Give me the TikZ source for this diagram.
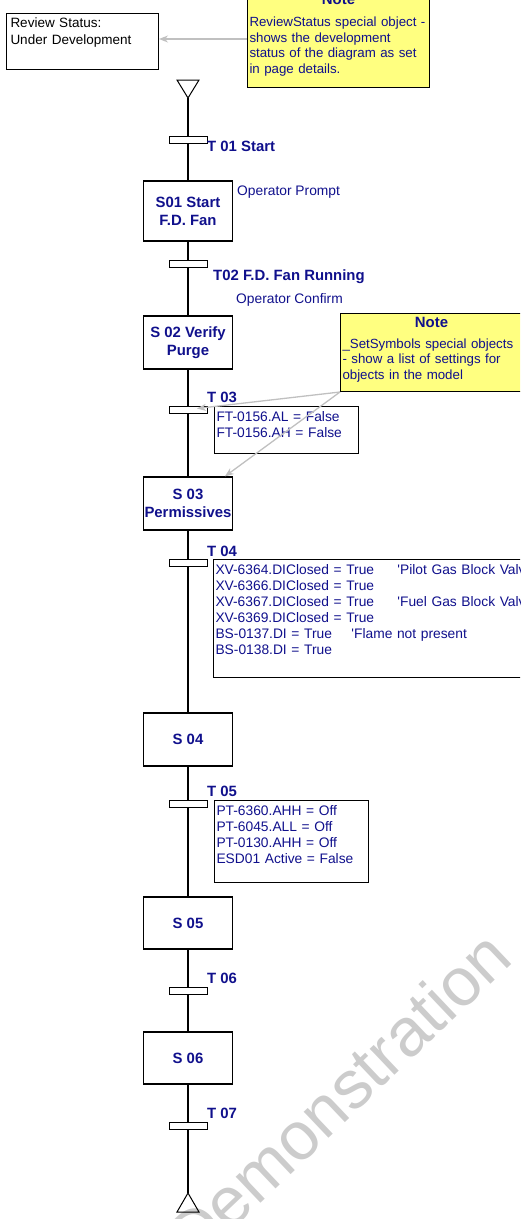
\documentclass[tikz,border=0pt]{standalone}
\usepackage{fontspec}
\setmainfont{Liberation Sans}
\usetikzlibrary{positioning,arrows.meta}
\definecolor{sfcblue}{RGB}{16,16,140}
\definecolor{noteyellow}{RGB}{255,255,128}
\definecolor{notegray}{RGB}{192,192,192}
\newcommand{\sfctext}{\fontsize{13.8}{16}\selectfont}
\newcommand{\sfcbold}{\fontsize{14.9}{18}\selectfont\bfseries}
\newcommand{\sfcnote}{\fontsize{13.3}{15.4}\selectfont}

\begin{document}
\begin{tikzpicture}[x=1pt,y=-1pt,>={Stealth[length=9pt,width=7pt]},
  stepbox/.style={draw,line width=1.2pt,minimum width=89pt,inner sep=0pt,align=center,font=\sfcbold,text=sfcblue},
  trans/.style={draw,line width=1pt,fill=white,minimum width=38pt,minimum height=7pt,inner sep=0pt},
  tlabel/.style={anchor=base west,inner sep=0pt,font=\sfcbold,text=sfcblue},
  action/.style={anchor=base west,inner sep=0pt,font=\sfctext,text=sfcblue},
  cond/.style={draw,line width=1pt,anchor=north west,inner sep=2pt,text height=13pt,align=left,font=\sfctext,text=sfcblue},
  note/.style={draw,line width=1pt,fill=noteyellow,anchor=north west,inner sep=2pt,text width=178pt,text height=12pt,align=left,font=\sfcnote,text=sfcblue},
  notelink/.style={->,draw=notegray,line width=1.3pt}]
\useasboundingbox (0,0) rectangle (520,1219);
\clip (0,0) rectangle (520,1219);

\node[text=gray!40,font=\fontsize{68}{68}\selectfont,rotate=43.5] (demo) at (338,1096) {Demonstration};

\node[draw,line width=1pt,anchor=north west,inner xsep=4pt,inner ysep=2pt,text width=144pt,text height=12pt,text depth=40pt,align=left,font=\fontsize{13.5}{17}\selectfont] (review) at (6,13) {Review Status:\\Under Development};
\node[note,text depth=81pt] (note1) at (247,-10) {{\centering\sfcbold Note\par}\vspace{7pt}ReviewStatus special object -\\shows the development\\status of the diagram as set\\in page details.};

\draw[line width=1pt] (177,80) -- (199,80) -- (188,98) -- cycle;
\coordinate (begin) at (188,98);
\draw[line width=1pt] (188,1193) -- (199,1212) -- (177,1212) -- cycle;
\coordinate (finish) at (188,1193);

\node[stepbox,minimum height=60pt] (s01) at (188,211) {S01 Start\\F.D. Fan};
\node[stepbox,minimum height=53pt] (s02) at (188,342.5) {S 02 Verify\\Purge};
\node[stepbox,minimum height=53pt] (s03) at (188,503.5) {S 03\\Permissives};
\node[stepbox,minimum height=53pt] (s04) at (188,739.5) {S 04};
\node[stepbox,minimum height=52pt] (s05) at (188,923) {S 05};
\node[stepbox,minimum height=52pt] (s06) at (188,1058) {S 06};

\node[trans] (t01) at (188,139.5) {};
\node[trans] (t02) at (188,263.5) {};
\node[trans] (t03) at (188,409.5) {};
\node[trans] (t04) at (188,563) {};
\node[trans] (t05) at (188,803.5) {};
\node[trans] (t06) at (188,990.5) {};
\node[trans] (t07) at (188,1125.5) {};

\draw[line width=1.2pt] (begin) -- (t01) -- (s01) -- (t02) -- (s02) -- (t03) -- (s03) -- (t04) -- (s04) -- (t05) -- (s05) -- (t06) -- (s06) -- (t07) -- (finish);

\node[tlabel] (l01) at (207,151) {T 01 Start};
\node[tlabel] (l02) at (213,280) {T02 F.D. Fan Running};
\node[tlabel] (l03) at (207,402) {T 03};
\node[tlabel] (l04) at (207,556) {T 04};
\node[tlabel] (l05) at (207,796) {T 05};
\node[tlabel] (l06) at (207,983) {T 06};
\node[tlabel] (l07) at (207,1118) {T 07};

\node[action] (a01) at (237,195) {Operator Prompt};
\node[action] (a02) at (236,303) {Operator Confirm};

\node[cond,text width=140pt,text depth=30pt] (c03) at (214,406) {FT-0156.AL = False\\FT-0156.AH = False};
\node[cond,text width=330pt,text depth=101pt] (c04) at (213,559) {\makebox[182pt][l]{XV-6364.DIClosed = True}\textquotesingle Pilot Gas Block Valve\\XV-6366.DIClosed = True\\\makebox[182pt][l]{XV-6367.DIClosed = True}\textquotesingle Fuel Gas Block Valve\\XV-6369.DIClosed = True\\\makebox[136pt][l]{BS-0137.DI = True}\textquotesingle Flame not present\\BS-0138.DI = True};
\node[cond,text width=150pt,text depth=65pt] (c05) at (214,800) {PT-6360.AHH = Off\\PT-6045.ALL = Off\\PT-0130.AHH = Off\\ESD01 Active = False};

\node[note,text depth=62pt] (note2) at (340,313) {{\centering\sfcbold Note\par}\vspace{5.5pt}\_SetSymbols special objects\\- show a list of settings for\\objects in the model};

\draw[notelink] (note1.west) -- (note1.west -| review.east);
\draw[notelink,shorten >=9pt] (note2.south west) -- (t03.center);
\draw[notelink] (note2.south west) -- (s03);
\end{tikzpicture}
\end{document}
